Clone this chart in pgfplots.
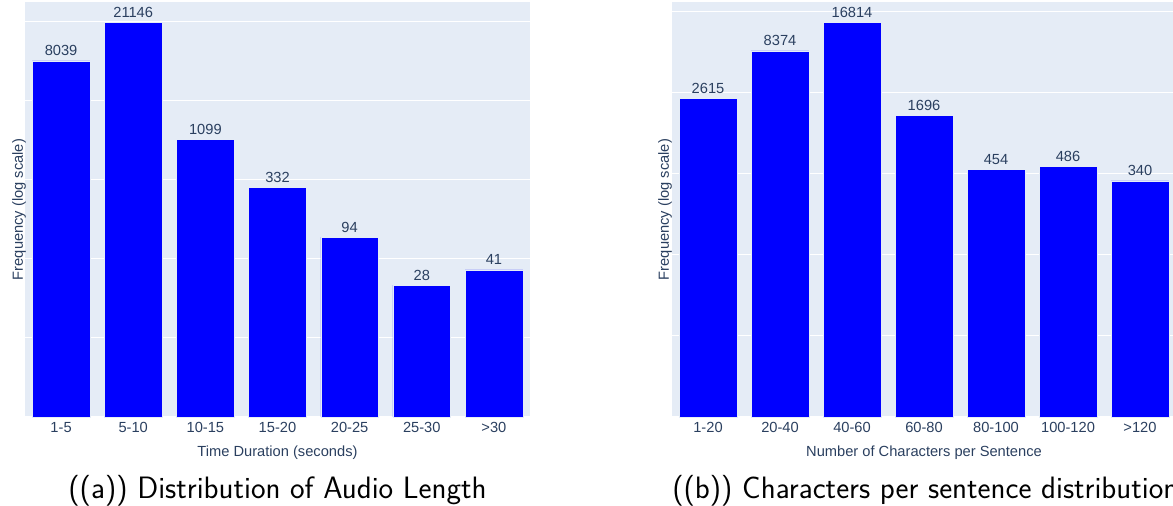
\documentclass[border=0pt]{standalone}
\usepackage{fontspec}
\setmainfont{Liberation Sans}
\usepackage{pgfplots}
\pgfplotsset{compat=1.18}
\usepackage{pgfplotstable}
\definecolor{plotbg}{HTML}{E5ECF6}
\definecolor{plottext}{HTML}{2A3F5F}

\pgfplotstableread{
x y
0 8039
1 21146
2 1099
3 332
4 94
5 28
6 41
}\audio
\pgfplotstableread{
x y
0 2615
1 8374
2 16814
3 1696
4 454
5 486
6 340
}\chars

\begin{document}
\begin{tikzpicture}
\path[use as bounding box] (0,0) rectangle (879.75pt,379.5pt);
\begin{axis}[at={(18.75pt,66.75pt)}, anchor=south west,
  scale only axis, width=378.75pt, height=311.25pt,
  ymode=log, ymin=1, ymax=35600,
  axis background/.style={fill=plotbg},
  axis line style={draw=none},
  major tick length=0pt,
  ytick={1,7.389056,54.59815,403.4288,2980.958,22026.47},
  yticklabels={},
  ymajorgrids, major grid style={white, line width=0.75pt},
  xmin=-0.5, xmax=6.5, xtick={0,...,6},
  ybar, bar width=0.8,
  clip=false,
  ticklabel style={font=\fontsize{11}{13}\selectfont, text=plottext},
  xticklabel style={anchor=base, yshift=-12pt, inner sep=0pt},
  label style={font=\fontsize{11}{13}\selectfont, text=plottext},
  xlabel style={at={(axis description cs:0.5,0)}, anchor=base, yshift=-30pt, inner sep=0pt},
  ylabel style={at={(axis description cs:-0.004,0.5)}, anchor=base, inner sep=0pt},
  nodes near coords, point meta=explicit symbolic,
  every node near coord/.append style={font=\fontsize{11}{13}\selectfont, text=plottext, anchor=base, yshift=3.75pt, inner sep=0pt},
  xticklabels={1-5,5-10,10-15,15-20,20-25,25-30,>30},
  xlabel={Time Duration (seconds)}, ylabel={Frequency (log scale)}]
\addplot[fill=blue, draw=plotbg, line width=0.375pt] table[x=x,y=y,meta=y]{\audio};
\node[anchor=base, yshift=-60.75pt, inner sep=0pt, font=\sffamily\fontsize{23.2}{27}\selectfont, text=black] at (axis description cs:0.5,0) {((a)) Distribution of Audio Length};
\end{axis}
\begin{axis}[at={(504pt,66.75pt)}, anchor=south west,
  scale only axis, width=378pt, height=311.25pt,
  ymode=log, ymin=1, ymax=28000,
  axis background/.style={fill=plotbg},
  axis line style={draw=none},
  major tick length=0pt,
  ytick={1,7.389056,54.59815,403.4288,2980.958,22026.47},
  yticklabels={},
  ymajorgrids, major grid style={white, line width=0.75pt},
  xmin=-0.5, xmax=6.5, xtick={0,...,6},
  ybar, bar width=0.8,
  clip=false,
  ticklabel style={font=\fontsize{11}{13}\selectfont, text=plottext},
  xticklabel style={anchor=base, yshift=-12pt, inner sep=0pt},
  label style={font=\fontsize{11}{13}\selectfont, text=plottext},
  xlabel style={at={(axis description cs:0.5,0)}, anchor=base, yshift=-30pt, inner sep=0pt},
  ylabel style={at={(axis description cs:-0.006,0.5)}, anchor=base, inner sep=0pt},
  nodes near coords, point meta=explicit symbolic,
  every node near coord/.append style={font=\fontsize{11}{13}\selectfont, text=plottext, anchor=base, yshift=3.75pt, inner sep=0pt},
  xticklabels={1-20,20-40,40-60,60-80,80-100,100-120,>120},
  xlabel={Number of Characters per Sentence}, ylabel={Frequency (log scale)}]
\addplot[fill=blue, draw=plotbg, line width=0.375pt] table[x=x,y=y,meta=y]{\chars};
\node[anchor=base west, yshift=-60.75pt, inner sep=0pt, font=\sffamily\fontsize{23.2}{27}\selectfont, text=black] at (axis description cs:0,0) {((b)) Characters per sentence distribution};
\end{axis}
\end{tikzpicture}
\end{document}
